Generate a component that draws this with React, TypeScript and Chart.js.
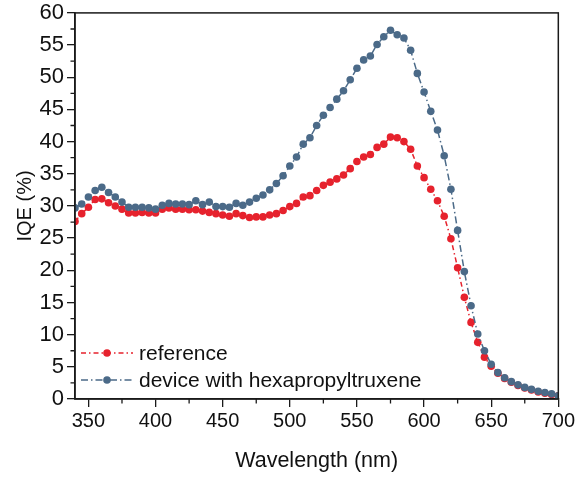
import React, { useEffect, useRef } from "react";
import { Chart, registerables } from "chart.js";

Chart.register(...registerables);

const wavelengths: number[] = [];
for (let w = 340; w <= 700; w += 5) wavelengths.push(w);

const referenceIQE = [
  27.6, 28.8, 29.8, 31.0, 31.1, 30.5, 30.0, 29.5, 28.9, 28.9,
  29.0, 28.9, 28.9, 29.5, 29.7, 29.5, 29.5, 29.4, 29.4, 29.2,
  29.0, 28.8, 28.6, 28.4, 28.8, 28.5, 28.2, 28.3, 28.3, 28.6,
  28.8, 29.3, 29.9, 30.4, 31.4, 31.6, 32.4, 33.2, 33.7, 34.2,
  34.8, 35.8, 36.9, 37.6, 38.0, 39.1, 39.6, 40.7, 40.6, 40.0,
  38.8, 36.2, 34.4, 32.6, 30.8, 28.4, 24.9, 20.4, 15.8, 11.9,
  8.8, 6.5, 5.1, 4.0, 3.2, 2.6, 2.1, 1.7, 1.4, 1.1,
  0.9, 0.7, 0.5,
];

const deviceIQE = [
  29.7, 30.3, 31.4, 32.4, 32.9, 32.1, 31.4, 30.6, 29.8, 29.8,
  29.8, 29.7, 29.5, 30.1, 30.4, 30.3, 30.3, 30.2, 30.8, 30.2,
  30.6, 29.9, 29.9, 29.8, 30.4, 30.1, 30.6, 31.2, 31.7, 32.5,
  33.5, 34.7, 36.2, 37.6, 39.6, 40.6, 42.5, 44.1, 45.3, 46.6,
  47.9, 49.6, 51.4, 52.7, 53.3, 55.1, 56.3, 57.3, 56.6, 56.1,
  54.2, 50.6, 47.7, 44.7, 41.8, 37.8, 32.6, 26.2, 19.8, 14.5,
  10.1, 7.5, 5.4, 4.1, 3.3, 2.7, 2.2, 1.8, 1.5, 1.2,
  1.0, 0.8, 0.5,
];

const seriesLabels = ["reference", "device with hexapropyltruxene"];
const xMajorTicks = [350, 400, 450, 500, 550, 600, 650, 700];
const xMinorTicks = [375, 425, 475, 525, 575, 625, 675];
const yMinorTicks = [2.5, 7.5, 12.5, 17.5, 22.5, 27.5, 32.5, 37.5, 42.5, 47.5, 52.5, 57.5];

const RED = "#E6222D";
const BLUE = "#4B6A88";
const AXIS = "#1a1a1a";
const FONT = "Arial, 'Liberation Sans', sans-serif";

const extrasPlugin = {
  id: "extras",
  afterDraw(chart: any) {
    const { ctx, chartArea, scales } = chart;
    const xs = scales.x;
    const ys = scales.y;
    ctx.save();
    // frame
    ctx.strokeStyle = AXIS;
    ctx.lineWidth = 1.5;
    ctx.setLineDash([]);
    ctx.strokeRect(chartArea.left, chartArea.top, chartArea.right - chartArea.left, chartArea.bottom - chartArea.top);
    // minor ticks
    ctx.lineWidth = 1.3;
    ctx.beginPath();
    for (const v of xMinorTicks) {
      const px = xs.getPixelForValue(v);
      ctx.moveTo(px, chartArea.bottom);
      ctx.lineTo(px, chartArea.bottom + 4.5);
    }
    for (const v of yMinorTicks) {
      const py = ys.getPixelForValue(v);
      ctx.moveTo(chartArea.left - 4.5, py);
      ctx.lineTo(chartArea.left, py);
    }
    ctx.stroke();
    // legend
    const rows = [chartArea.bottom - 46, chartArea.bottom - 19];
    chart.data.datasets.forEach((ds: any, i: number) => {
      const y = rows[i];
      const x0 = chartArea.left + 6;
      const x1 = chartArea.left + 58;
      ctx.strokeStyle = ds.borderColor;
      ctx.lineWidth = ds.borderWidth;
      ctx.setLineDash(ds.borderDash || []);
      ctx.beginPath();
      ctx.moveTo(x0, y);
      ctx.lineTo(x1, y);
      ctx.stroke();
      ctx.setLineDash([]);
      ctx.fillStyle = ds.pointBackgroundColor;
      ctx.beginPath();
      ctx.arc((x0 + x1) / 2, y, ds.pointRadius, 0, Math.PI * 2);
      ctx.fill();
      ctx.fillStyle = "#111";
      ctx.font = `21px ${FONT}`;
      ctx.textBaseline = "middle";
      ctx.textAlign = "left";
      ctx.fillText(ds.label, chartArea.left + 64, y + 1);
    });
    ctx.restore();
  },
};

export default function App() {
  const ref = useRef<HTMLCanvasElement | null>(null);
  useEffect(() => {
    if (!ref.current) return;
    const chart = new Chart(ref.current, {
      type: "line",
      data: {
        labels: wavelengths,
        datasets: [
          {
            label: seriesLabels[0],
            data: wavelengths.map((w, i) => ({ x: w, y: referenceIQE[i] })),
            borderColor: RED,
            backgroundColor: RED,
            pointBackgroundColor: RED,
            pointBorderWidth: 0,
            pointRadius: 3.8,
            borderWidth: 1.5,
            borderDash: [5, 3, 1.5, 3],
            clip: 0,
            order: 1,
          },
          {
            label: seriesLabels[1],
            data: wavelengths.map((w, i) => ({ x: w, y: deviceIQE[i] })),
            borderColor: BLUE,
            backgroundColor: BLUE,
            pointBackgroundColor: BLUE,
            pointBorderWidth: 0,
            pointRadius: 3.8,
            borderWidth: 1.5,
            borderDash: [7, 3, 1.5, 3],
            clip: 0,
            order: 0,
          },
        ],
      },
      options: {
        animation: false,
        responsive: false,
        maintainAspectRatio: false,
        layout: { padding: { top: 10, right: 19, left: 0, bottom: 0 } },
        plugins: {
          legend: { display: false },
          tooltip: { enabled: false },
        },
        scales: {
          x: {
            type: "linear",
            min: 340,
            max: 700,
            afterBuildTicks: (scale: any) => {
              scale.ticks = xMajorTicks.map((v) => ({ value: v }));
            },
            afterFit: (scale: any) => {
              scale.height = 80;
            },
            grid: { drawOnChartArea: false, drawTicks: true, tickLength: 8, color: AXIS, lineWidth: 1.3 },
            border: { display: true, color: AXIS, width: 1.5 },
            ticks: { font: { size: 20, family: FONT, lineHeight: 1 }, color: "#111", padding: 4, maxRotation: 0 },
            title: { display: true, text: "Wavelength (nm)", font: { size: 21.5, family: FONT }, color: "#111", padding: { top: 4, bottom: 5 } },
          },
          y: {
            min: 0,
            max: 60,
            afterFit: (scale: any) => {
              scale.width = 75;
            },
            grid: { drawOnChartArea: false, drawTicks: true, tickLength: 8, color: AXIS, lineWidth: 1.3 },
            border: { display: true, color: AXIS, width: 1.5 },
            ticks: { stepSize: 5, font: { size: 22, family: FONT, lineHeight: 0.9 }, color: "#111", padding: 3 },
            title: { display: true, text: "IQE (%)", font: { size: 20, family: FONT }, color: "#111", padding: { top: 13, bottom: 4 } },
          },
        },
      },
      plugins: [extrasPlugin],
    } as any);
    return () => chart.destroy();
  }, []);
  return (
    <div style={{ position: "fixed", left: 0, top: 0, width: 579, height: 479, background: "#fff" }}>
      <canvas ref={ref} width={579} height={479} style={{ width: 579, height: 479 }} />
    </div>
  );
}
